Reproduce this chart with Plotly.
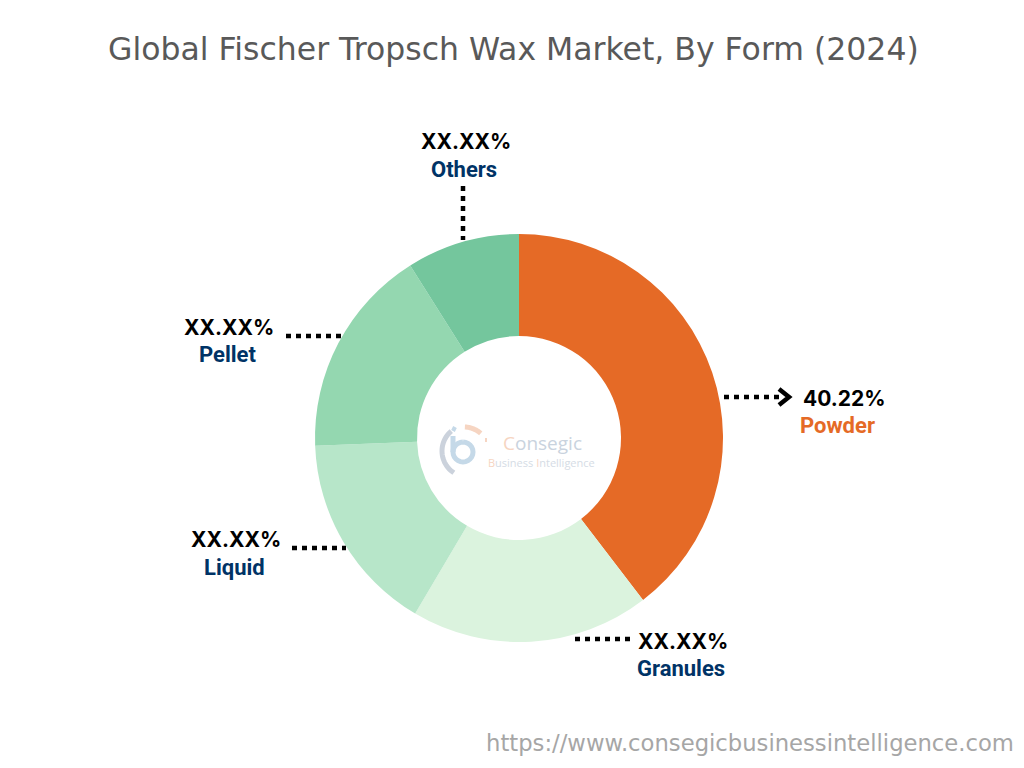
import math

import plotly.graph_objects as go

W, H = 1024, 768

# values, only Powder is printed on it
forms = ["Powder", "Granules", "Liquid", "Pellet", "Others"]
shares = [39.6, 18.9, 15.9, 16.65, 8.95]
slice_colors = ["#E56A26", "#DBF3DE", "#B7E6C9", "#94D7B0", "#74C69D"]
share_labels = ["40.22%", "XX.XX%", "XX.XX%", "XX.XX%", "XX.XX%"]
name_colors = ["#E56A26", "#003366", "#003366", "#003366", "#003366"]

# pixel anchors for the outside labels: value x/y, name x/y
label_pos = [
    (844, 398, 837, 425),
    (683, 641, 681, 668),
    (236, 539, 234, 567),
    (229, 327, 227, 354),
    (466, 141, 464, 169),
]
# leader lines, x0 y0 x1 y1
leaders = [
    (724, 397, 782, 397),
    (575, 639, 632, 639),
    (292, 548, 346, 548),
    (286, 336, 341, 336),
    (463, 186, 463, 240),
]


def px(x):
    return x / W


def py(y):
    return 1 - y / H


def paper_path(points):
    # pixel points to an open svg path in paper coordinates
    return "M " + " L ".join(f"{px(x)} {py(y)}" for x, y in points)


def arc(cx, cy, r, start, end, steps=24):
    # angles in degrees, clockwise from twelve o'clock
    pts = []
    for i in range(steps + 1):
        a = math.radians(start + (end - start) * i / steps)
        pts.append((cx + r * math.sin(a), cy - r * math.cos(a)))
    return pts


fig = go.Figure()

fig.add_trace(
    go.Pie(
        labels=forms,
        values=shares,
        hole=0.5,
        sort=False,
        direction="clockwise",
        rotation=0,
        marker=dict(colors=slice_colors, line=dict(width=0)),
        textinfo="none",
        hoverinfo="label",
        showlegend=False,
        domain=dict(x=[px(315), px(723)], y=[py(642), py(234)]),
    )
)

logo_peach = "#F6D5C2"
annotations = [
    dict(
        text="Global Fischer Tropsch Wax Market, By Form (2024)",
        x=px(513),
        y=py(49),
        font=dict(family="DejaVu Sans", size=31.5, color="#595959"),
    ),
    dict(
        text="https://www.consegicbusinessintelligence.com",
        x=px(750),
        y=py(743),
        font=dict(family="DejaVu Sans", size=22.7, color="#A6A6A6"),
    ),
    dict(
        text=f"<span style='color:{logo_peach}'>C</span>onsegic",
        x=px(542),
        y=py(443),
        font=dict(family="Open Sans", size=19, color="#C9D3DE"),
    ),
    dict(
        text=(
            f"<span style='color:{logo_peach}'>B</span>usiness "
            f"<span style='color:{logo_peach}'>I</span>ntelligence"
        ),
        x=px(541),
        y=py(462),
        font=dict(family="Open Sans", size=11, color="#D5DCE5"),
    ),
]
for label, name, name_color, pos in zip(
    share_labels, forms, name_colors, label_pos
):
    annotations.append(
        dict(
            text=f"<b>{label}</b>",
            x=px(pos[0]),
            y=py(pos[1]),
            font=dict(family="Inter", size=21, color="black"),
        )
    )
    annotations.append(
        dict(
            text=f"<b>{name}</b>",
            x=px(pos[2]),
            y=py(pos[3]),
            font=dict(family="Roboto", size=22, color=name_color),
        )
    )
for a in annotations:
    a.update(
        xref="paper",
        yref="paper",
        showarrow=False,
        xanchor="center",
        yanchor="middle",
    )

shapes = []
for x0, y0, x1, y1 in leaders:
    shapes.append(
        dict(
            type="line",
            xref="paper",
            yref="paper",
            x0=px(x0),
            y0=py(y0),
            x1=px(x1),
            y1=py(y1),
            line=dict(color="black", width=4.5, dash="5px,5px"),
        )
    )
# arrow head on the Powder leader
shapes.append(
    dict(
        type="path",
        xref="paper",
        yref="paper",
        path=paper_path([(779, 389), (789, 397), (779, 405)]),
        line=dict(color="black", width=4.5),
    )
)
# faint logo mark in the hole
logo_strokes = [
    (arc(468, 451, 26, 213, 320), "#CBD2DC", 5),
    (arc(463, 452, 10, 0, 360), "#C5D9E8", 5),
    ([(453, 436), (453, 452)], "#C5D9E8", 5),
    ([(453, 431), (455, 427)], "#C5D9E8", 4),
    (arc(464, 452, 25, 2, 42), logo_peach, 5),
    ([(485, 440), (487, 440)], logo_peach, 4),
]
for pts, color, width in logo_strokes:
    shapes.append(
        dict(
            type="path",
            xref="paper",
            yref="paper",
            path=paper_path(pts),
            line=dict(color=color, width=width),
        )
    )

fig.update_layout(
    width=W,
    height=H,
    margin=dict(l=0, r=0, t=0, b=0),
    paper_bgcolor="white",
    annotations=annotations,
    shapes=shapes,
)

fig.write_html(
    "out.html",
    config=dict(displayModeBar=False),
    post_script="document.body.style.margin='0';",
)
